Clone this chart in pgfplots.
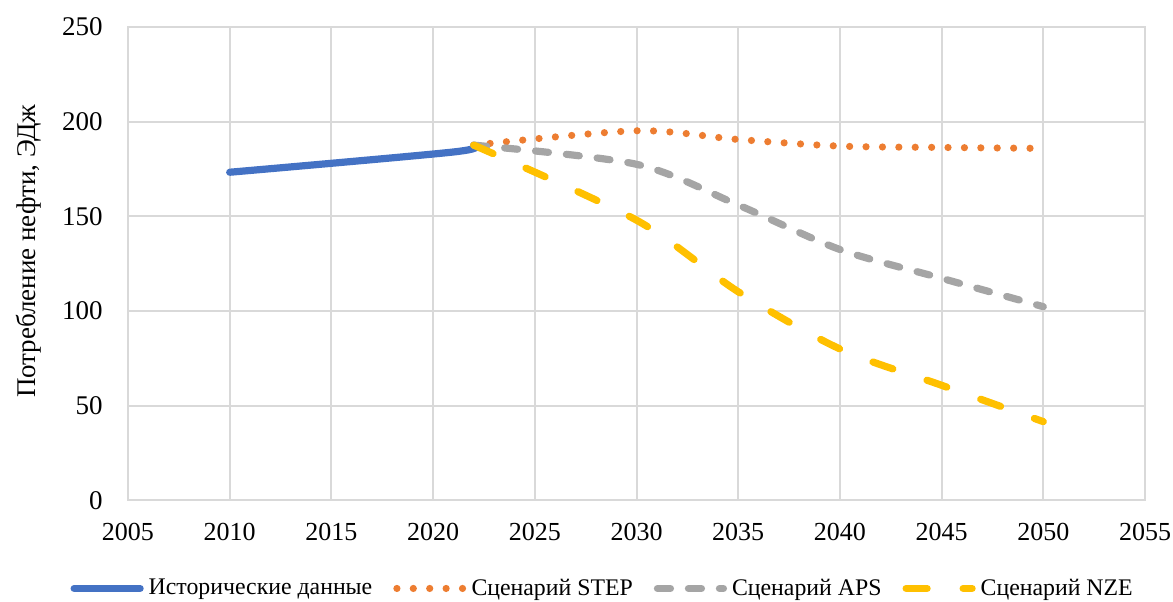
\documentclass[border=0pt]{standalone}
\usepackage{fontspec}
\setmainfont{Liberation Serif}
\usepackage{pgfplots}
\pgfplotsset{compat=1.18}

\definecolor{histblue}{HTML}{4472C4}
\definecolor{stepor}{HTML}{ED7D31}
\definecolor{apsgray}{HTML}{A5A5A5}
\definecolor{nzeyel}{HTML}{FFC000}
\definecolor{gridgray}{HTML}{D9D9D9}

\begin{document}
\begin{tikzpicture}
\begin{axis}[
  scale only axis,
  width=508.5pt, height=236.7pt,
  xmin=2005, xmax=2055, ymin=0, ymax=250,
  xtick={2005,2010,...,2055},
  ytick={0,50,...,250},
  grid=major,
  major grid style={draw=gridgray, line width=1pt},
  axis line style={draw=gridgray, line width=1pt},
  major tick length=0pt,
  /pgf/number format/assume math mode=true,
  /pgf/number format/1000 sep={},
  xticklabel style={font=\fontsize{13}{15}\selectfont, inner sep=0pt, anchor=north, yshift=-11pt},
  yticklabel style={font=\fontsize{13.5}{16}\selectfont, inner sep=0pt, anchor=east, xshift=-12.5pt},
  ylabel={Потребление нефти, ЭДж},
  ylabel style={font=\fontsize{13.5}{16}\selectfont, at={(axis description cs:-0.098,0.526)}, anchor=center},
  legend columns=4,
  legend style={draw=none, fill=none, inner sep=0pt, outer sep=0pt,
    at={(axis description cs:-0.0565,-0.186)}, anchor=west,
    font=\fontsize{11.9}{14}\selectfont,
    nodes={inner sep=0pt},
    /tikz/every odd column/.append style={column sep=2.5pt},
    /tikz/every even column/.append style={column sep=10.5pt}},
  legend image code/.code={\draw[#1] (0pt,0pt) -- (33pt,0pt);},
  every axis plot/.append style={line width=3.6pt, line cap=round, line join=round},
]
\coordinate (sw) at (rel axis cs:0,0);

% historical data
\addplot[histblue, smooth] coordinates {
  (2010, 173.3)
  (2021, 184.0)
  (2022, 187.6)
};
\addlegendentry{Исторические данные}

% STEPS
\addplot[stepor, smooth, dash pattern=on 0pt off 8.2pt] coordinates {
  (2022, 187.6)
  (2030, 195.2)
  (2035, 190.6)
  (2040, 187.1)
  (2045, 186.4)
  (2050, 185.9)
};
\addlegendentry{Сценарий STEP}

% APS
\addplot[apsgray, smooth, dash pattern=on 6.5pt off 9pt] coordinates {
  (2022, 187.6)
  (2030, 177.5)
  (2035, 156.0)
  (2040, 132.5)
  (2045, 117.3)
  (2050, 102.3)
};
\addlegendentry{Сценарий APS}

% NZE
\addplot[nzeyel, smooth, dash pattern=on 10.5pt off 18pt] coordinates {
  (2022, 187.6)
  (2030, 148.0)
  (2035, 110.2)
  (2040, 80.0)
  (2045, 60.8)
  (2050, 41.6)
};
\addlegendentry{Сценарий NZE}
\end{axis}
\pgfresetboundingbox
\path (sw) ++(-64pt,-50.3pt) rectangle ++(586.5pt,300.5pt);
\end{tikzpicture}
\end{document}
